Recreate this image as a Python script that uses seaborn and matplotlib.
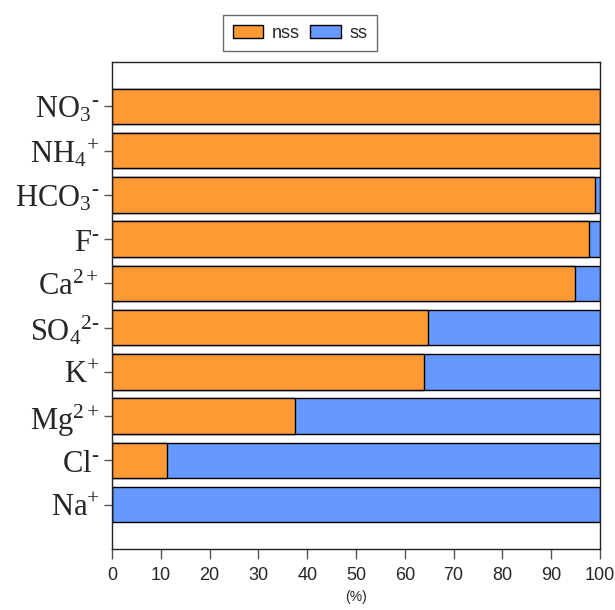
import matplotlib
matplotlib.use("Agg")
import matplotlib.pyplot as plt
import seaborn as sns
import pandas as pd
import numpy as np
from matplotlib.patches import Patch

sns.set_style("ticks")
plt.rcParams['font.family'] = ['Liberation Sans', 'DejaVu Sans']
plt.rcParams['mathtext.fontset'] = 'custom'
plt.rcParams['mathtext.rm'] = 'Liberation Serif'
plt.rcParams['mathtext.it'] = 'Liberation Serif:italic'

ions = [r"$\mathrm{NO_3{}^{\text{-}}}$", r"$\mathrm{NH_4{}^{+}}$", r"$\mathrm{HCO_3{}^{\text{-}}}$",
        r"$\mathrm{F^{\text{-}}}$", r"$\mathrm{Ca^{2+}}$", r"$\mathrm{SO_4{}^{2\text{-}}}$",
        r"$\mathrm{K^{+}}$", r"$\mathrm{Mg^{2+}}$", r"$\mathrm{Cl^{\text{-}}}$", r"$\mathrm{Na^{+}}$"]
nss = [100, 100, 99.0, 97.7, 94.9, 64.7, 63.9, 37.6, 11.2, 0]
ss = [100 - v for v in nss]

orange = "#FF9933"
blue = "#6699FF"

df = pd.DataFrame({"ion": ions, "nss": nss, "ss": ss})
df["total"] = df["nss"] + df["ss"]

fig = plt.figure(figsize=(6.15, 6.10), dpi=100)
ax = fig.add_axes([112/615, 1 - 549/610, 488/615, 487/610])

sns.barplot(data=df, y="ion", x="total", color=blue, orient="h", width=0.8,
            edgecolor="black", linewidth=1, saturation=1, ax=ax)
sns.barplot(data=df, y="ion", x="nss", color=orange, orient="h", width=0.8,
            edgecolor="black", linewidth=1, saturation=1, ax=ax)

ax.set_xlim(0, 100)
ax.set_ylim(10, -1)
ax.set_xticks(np.arange(0, 101, 10))
ax.set_xlabel("(%)", fontsize=10, labelpad=4)
ax.set_ylabel("")
ax.tick_params(axis="x", labelsize=13, length=7, width=1, color="#555555", pad=6)
ax.tick_params(axis="y", labelsize=22, length=6, width=1, color="#555555", pad=3)
for s in ax.spines.values():
    s.set_color("#222222")
    s.set_linewidth(1)

handles = [Patch(facecolor=orange, edgecolor="black", label="nss"),
           Patch(facecolor=blue, edgecolor="black", label="ss")]
leg = fig.legend(handles=handles, loc="center", bbox_to_anchor=(300/615, 1 - 33/610),
                 ncol=2, frameon=True, fancybox=False, fontsize=13,
                 handlelength=1.7, handleheight=0.7, columnspacing=0.6,
                 handletextpad=0.45, borderpad=0.55)
leg.get_frame().set_edgecolor("#444444")
leg.get_frame().set_linewidth(1)

fig.savefig("out.png", dpi=100)
